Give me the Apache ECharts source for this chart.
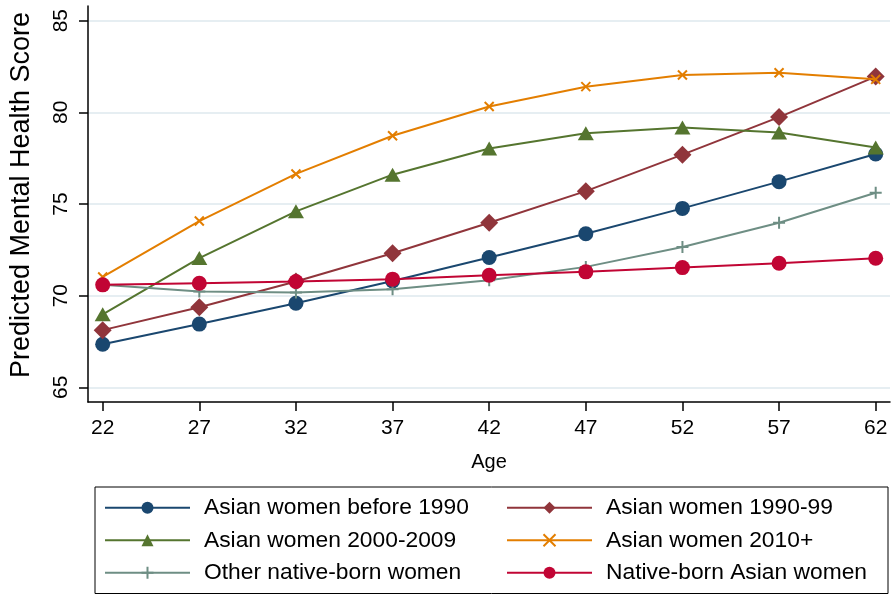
<!DOCTYPE html>
<html>
<head>
<meta charset="utf-8">
<script src="https://cdn.jsdelivr.net/npm/echarts@6/dist/echarts.min.js"></script>
<style>
html,body{margin:0;padding:0;background:#fff;}
#chart{width:893px;height:594px;}
</style>
</head>
<body>
<div id="chart"></div>
<script>
// ---- Data ----
const ages = [22, 27, 32, 37, 42, 47, 52, 57, 62];
const yTicks = [65, 70, 75, 80, 85];
const seriesNames = [
  'Asian women before 1990',
  'Asian women 1990-99',
  'Asian women 2000-2009',
  'Asian women 2010+',
  'Other native-born women',
  'Native-born Asian women'
];
const before1990   = [67.35, 68.45, 69.59, 70.80, 72.08, 73.38, 74.76, 76.22, 77.73];
const w1990to99    = [68.12, 69.37, 70.77, 72.31, 73.98, 75.70, 77.69, 79.74, 81.95];
const w2000to2009  = [68.98, 72.05, 74.60, 76.60, 78.03, 78.86, 79.17, 78.90, 78.08];
const w2010plus    = [71.02, 74.07, 76.64, 78.72, 80.32, 81.40, 82.04, 82.16, 81.80];
const otherNative  = [70.60, 70.23, 70.17, 70.35, 70.84, 71.57, 72.65, 73.98, 75.61];
const nativeAsian  = [70.59, 70.68, 70.77, 70.90, 71.11, 71.30, 71.53, 71.77, 72.04];

const values = [before1990, w1990to99, w2000to2009, w2010plus, otherNative, nativeAsian];
const colors = ['#1a476f', '#90353b', '#55752f', '#e37e00', '#6e8e84', '#c10534'];
const symbols = [
  'circle',
  'diamond',
  'triangle',
  'path://M0,0L10,10M0,10L10,0',
  'path://M5,0L5,10M0,5L10,5',
  'circle'
];
const symbolSizes = [15, [18, 18], [16, 14], 9, 12, 15];
const borderWidths = [0, 0, 0, 2, 2, 0];

const FONT = '"Liberation Sans", Arial, Helvetica, sans-serif';

const series = seriesNames.map((name, i) => ({
  name: name,
  type: 'line',
  data: ages.map((a, j) => [a, values[i][j]]),
  symbol: symbols[i],
  symbolSize: symbolSizes[i],
  showSymbol: true,
  lineStyle: { color: colors[i], width: 2 },
  itemStyle: { color: colors[i], borderColor: colors[i], borderWidth: borderWidths[i] },
  emphasis: { disabled: true },
  z: 2 + i
}));

const legendData = seriesNames.map((name, i) => ({
  name: name,
  textStyle: { width: (i % 2 === 0) ? 294 : 270 }
}));

const chart = echarts.init(document.getElementById('chart'), null, { renderer: 'canvas' });
chart.setOption({
  animation: false,
  backgroundColor: '#ffffff',
  textStyle: { fontFamily: FONT },
  grid: { left: 86, right: 3, top: 6, bottom: 192, containLabel: false },
  xAxis: {
    type: 'value',
    min: 21.24,
    max: 62.74,
    name: 'Age',
    nameLocation: 'middle',
    nameGap: 50,
    nameTextStyle: { fontSize: 20, color: '#000', fontFamily: FONT, lineHeight: 20 },
    axisLine: { show: true, onZero: false, lineStyle: { color: '#000', width: 1.5 } },
    axisTick: { show: true, length: 9, customValues: ages, lineStyle: { color: '#000', width: 1.5 } },
    axisLabel: { customValues: ages, fontSize: 21, color: '#000', margin: 16, fontFamily: FONT, lineHeight: 21 },
    splitLine: { show: false }
  },
  yAxis: {
    type: 'value',
    min: 64.2,
    max: 85.8,
    name: 'Predicted Mental Health Score',
    nameLocation: 'middle',
    nameGap: 53,
    nameTextStyle: { fontSize: 27, color: '#000', fontFamily: FONT, lineHeight: 27, padding: [0, 0, 0, 18] },
    axisLine: { show: true, onZero: false, lineStyle: { color: '#000', width: 1.5 } },
    axisTick: { show: true, length: 9, customValues: yTicks, lineStyle: { color: '#000', width: 1.5 } },
    axisLabel: { customValues: yTicks, rotate: 90, fontSize: 21, color: '#000', margin: 16, fontFamily: FONT, lineHeight: 21 },
    splitLine: { show: true, lineStyle: { color: '#e6eef2', width: 2 } }
  },
  legend: {
    data: legendData,
    orient: 'horizontal',
    left: 95,
    top: 487,
    width: 780,
    itemWidth: 85,
    itemHeight: 15,
    itemGap: 8,
    padding: [8.5, 12, 8.5, 9],
    borderColor: '#000',
    borderWidth: 1,
    selectedMode: false,
    align: 'left',
    textStyle: { fontSize: 22.8, color: '#000', fontFamily: FONT, lineHeight: 24.5, padding: [0, 0, 0, 9] }
  },
  series: series
});
</script>
</body>
</html>
